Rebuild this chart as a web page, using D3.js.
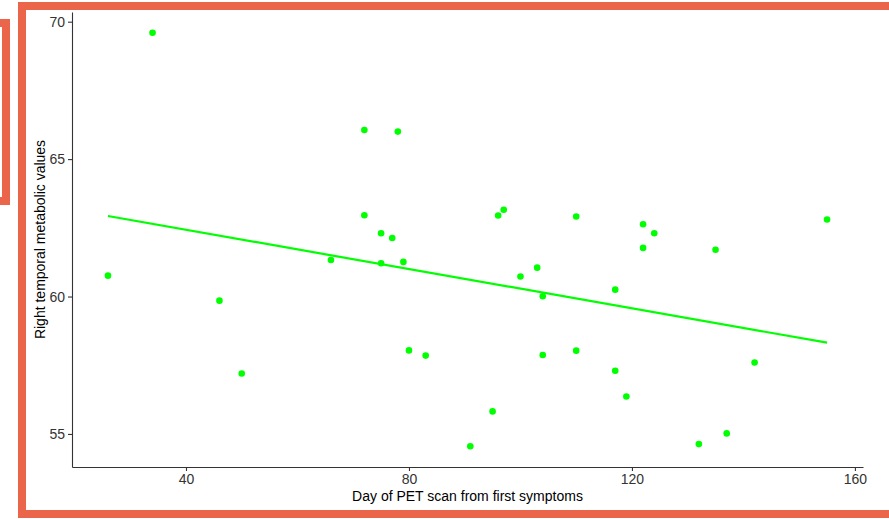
<!DOCTYPE html>
<html>
<head>
<meta charset="utf-8">
<script src="https://cdn.jsdelivr.net/npm/d3@7"></script>
<style>
  body { margin: 0; background: #fff; }
  svg { display: block; font-family: "Liberation Sans", Arial, sans-serif; }
</style>
</head>
<body>
<div id="scatter"></div>
<script>
// Data
var days = [26, 34, 46, 50, 66, 72, 78, 72, 75, 77, 75, 79, 80, 83, 91, 95, 96, 97, 100, 103,
  104, 104, 110, 110, 117, 117, 119, 122, 124, 122, 132, 135, 137, 142, 155];
var values = [60.76, 69.6, 59.85, 57.2, 61.33, 66.06, 66.0, 62.96, 62.3, 62.13, 61.21, 61.26, 58.04, 57.85, 54.55, 55.82, 62.95, 63.16, 60.73, 61.05,
  60.01, 57.87, 62.91, 58.03, 60.25, 57.30, 56.36, 62.63, 62.3, 61.77, 54.63, 61.70, 55.02, 57.6, 62.8];

// Fitted line end points
var trendDays = [26, 155];
var trendValues = [62.93, 58.32];

var xTicks = [40, 80, 120, 160];
var yTicks = [55, 60, 65, 70];

var xTitle = "Day of PET scan from first symptoms";
var yTitle = "Right temporal metabolic values";

// SVG size
var svgWidth = 889;
var svgHeight = 519;

var margin = { top: 12, right: 26, bottom: 52, left: 72 };
var width = svgWidth - margin.left - margin.right;
var height = svgHeight - margin.top - margin.bottom;

var svg = d3.select("#scatter")
  .append("svg")
  .attr("width", svgWidth)
  .attr("height", svgHeight);

// Orange frames
var frameColor = "#EA6549";
svg.append("rect")
  .attr("x", -20).attr("y", 23)
  .attr("width", 26).attr("height", 178)
  .attr("fill", "none")
  .attr("stroke", frameColor)
  .attr("stroke-width", 8);

svg.append("rect")
  .attr("x", 22).attr("y", 6)
  .attr("width", 900).attr("height", 508)
  .attr("fill", "none")
  .attr("stroke", frameColor)
  .attr("stroke-width", 8);

var chartGroup = svg.append("g")
  .attr("transform", `translate(${margin.left}, ${margin.top})`);

// Scales with 5% padding like ggplot
function padded(arr) {
  var lo = d3.min(arr), hi = d3.max(arr);
  var pad = (hi - lo) * 0.05;
  return [lo - pad, hi + pad];
}

var xScale = d3.scaleLinear().domain(padded(days)).range([0, width]);
var yScale = d3.scaleLinear().domain(padded(values)).range([height, 0]);

var bottomAxis = d3.axisBottom(xScale).tickValues(xTicks).tickSize(4).tickPadding(3).tickSizeOuter(0);
var leftAxis = d3.axisLeft(yScale).tickValues(yTicks).tickSize(4).tickPadding(3).tickSizeOuter(0);

var xAxis = chartGroup.append("g")
  .attr("transform", `translate(0, ${height})`)
  .call(bottomAxis);

var yAxis = chartGroup.append("g")
  .call(leftAxis);

[xAxis, yAxis].forEach(function(ax) {
  ax.select(".domain").attr("stroke", "#333").attr("stroke-width", 1.1);
  ax.selectAll(".tick line").attr("stroke", "#333").attr("stroke-width", 1.1);
  ax.selectAll(".tick text")
    .attr("fill", "#333")
    .attr("font-size", "14px")
    .attr("font-family", "'Liberation Sans', Arial, sans-serif");
});

// Regression line
var line = d3.line()
  .x(d => xScale(d[0]))
  .y(d => yScale(d[1]));

chartGroup.append("path")
  .datum(d3.zip(trendDays, trendValues))
  .attr("d", line)
  .attr("fill", "none")
  .attr("stroke", "#00FF00")
  .attr("stroke-width", 2.2);

// Points
chartGroup.selectAll("circle")
  .data(d3.zip(days, values))
  .enter()
  .append("circle")
  .attr("cx", d => xScale(d[0]))
  .attr("cy", d => yScale(d[1]))
  .attr("r", 3.3)
  .attr("fill", "#00FF00");

// Axis titles
svg.append("text")
  .attr("x", margin.left + width / 2)
  .attr("y", 501)
  .attr("text-anchor", "middle")
  .attr("font-size", "14px")
  .attr("fill", "#000")
  .text(xTitle);

svg.append("text")
  .attr("transform", `translate(45, ${margin.top + height / 2}) rotate(-90)`)
  .attr("text-anchor", "middle")
  .attr("font-size", "14px")
  .attr("fill", "#000")
  .text(yTitle);
</script>
</body>
</html>
